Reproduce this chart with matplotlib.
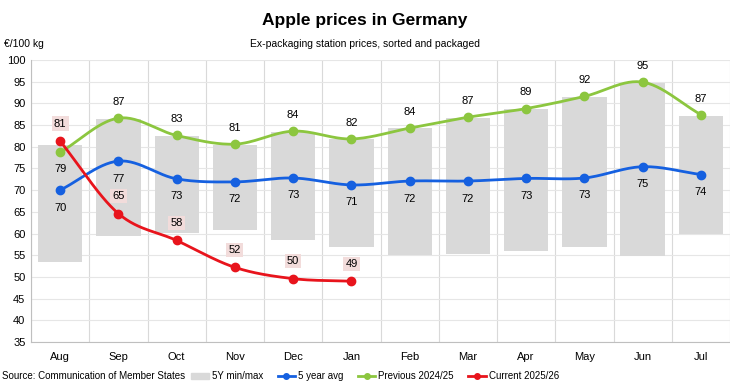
import numpy as np
import matplotlib.pyplot as plt
from matplotlib.lines import Line2D
from matplotlib.patches import Patch

plt.rcParams['font.family'] = ['Liberation Sans', 'DejaVu Sans']

months = ['Aug', 'Sep', 'Oct', 'Nov', 'Dec', 'Jan', 'Feb', 'Mar', 'Apr', 'May', 'Jun', 'Jul']
min5y = [53.4, 59.5, 60.1, 60.7, 58.5, 57.0, 55.1, 55.3, 56.0, 56.8, 54.9, 59.8]
max5y = [80.3, 86.5, 82.4, 80.3, 83.4, 81.8, 84.3, 86.7, 88.7, 91.5, 94.8, 87.2]
avg5y = [70.0, 76.7, 72.6, 71.9, 72.8, 71.2, 72.1, 72.1, 72.7, 72.8, 75.4, 73.6]
prev = [78.7, 86.6, 82.6, 80.6, 83.6, 81.8, 84.3, 86.8, 88.8, 91.6, 94.9, 87.4]
curr = [81.3, 64.6, 58.4, 52.2, 49.6, 49.0]

GREY = '#d9d9d9'
BLUE = '#1560e0'
GREEN = '#8cc63f'
RED = '#e8141c'


def smooth(x, y, n=30):
    # catmull-rom, like excel's smoothed line
    x = np.asarray(x, float)
    y = np.asarray(y, float)
    px = np.concatenate([[2 * x[0] - x[1]], x, [2 * x[-1] - x[-2]]])
    py = np.concatenate([[2 * y[0] - y[1]], y, [2 * y[-1] - y[-2]]])
    xs, ys = [], []
    t = np.linspace(0, 1, n)
    for i in range(1, len(px) - 2):
        for p, out in ((px, xs), (py, ys)):
            p0, p1, p2, p3 = p[i - 1], p[i], p[i + 1], p[i + 2]
            out.extend(0.5 * (2 * p1 + (-p0 + p2) * t + (2 * p0 - 5 * p1 + 4 * p2 - p3) * t ** 2
                              + (-p0 + 3 * p1 - 3 * p2 + p3) * t ** 3))
    return xs, ys


fig = plt.figure(figsize=(7.3, 3.85), dpi=100)
ax = fig.add_axes([0.0425, 0.1117, 0.9575, 0.7325])

x = np.arange(len(months))
ax.bar(x, np.array(max5y) - np.array(min5y), bottom=min5y, width=0.76, color=GREY, zorder=2)

for vals, col in ((avg5y, BLUE), (prev, GREEN), (curr, RED)):
    xx = x[:len(vals)]
    sx, sy = smooth(xx, vals)
    ax.plot(sx, sy, color=col, lw=2, zorder=3)
    ax.plot(xx, vals, 'o', color=col, ms=6, zorder=4)

for i, v in enumerate(avg5y):
    ax.annotate(f'{v:.0f}', (i, v), xytext=(0, -9), textcoords='offset points',
                ha='center', va='top', fontsize=8)
for i, v in enumerate(prev):
    if i == 0:
        ax.annotate(f'{v:.0f}', (i, v), xytext=(0, -8), textcoords='offset points',
                    ha='center', va='top', fontsize=8)
    else:
        ax.annotate(f'{v:.0f}', (i, v), xytext=(0, 8), textcoords='offset points',
                    ha='center', va='bottom', fontsize=8)
for i, v in enumerate(curr):
    ax.annotate(f'{v:.0f}', (i, v), xytext=(0, 9), textcoords='offset points',
                ha='center', va='bottom', fontsize=8,
                bbox=dict(boxstyle='square,pad=0.2', fc='#f2dcdb', ec='none'))

ax.set_xlim(-0.5, 11.5)
ax.set_ylim(35, 100)
ax.set_yticks(np.arange(35, 101, 5))
ax.set_xticks(x)
ax.set_xticklabels(months)
ax.set_xticks(np.arange(-0.5, 12, 1), minor=True)
ax.grid(True, which='minor', axis='x', color='#d9d9d9', lw=0.8, zorder=0)
ax.grid(True, which='major', axis='y', color='#e6e6e6', lw=0.8, zorder=0)
ax.tick_params(axis='both', which='both', length=0, labelsize=8)
ax.tick_params(axis='x', pad=7)
ax.tick_params(axis='y', pad=4)
for s in ('top', 'right'):
    ax.spines[s].set_visible(False)
ax.spines['left'].set_color('#bfbfbf')
ax.spines['bottom'].set_color('#bfbfbf')

fig.text(0.5, 0.948, 'Apple prices in Germany', ha='center', va='center', fontsize=12.5, fontweight='bold')
fig.text(0.5, 0.885, 'Ex-packaging station prices, sorted and packaged', ha='center', va='center', fontsize=7.5)
fig.text(0.005, 0.885, '€/100 kg', ha='left', va='center', fontsize=7.5)
fig.text(0.003, 0.023, 'Source: Communication of Member States', ha='left', va='center', fontsize=7)

handles = [Patch(color=GREY),
           Line2D([], [], color=BLUE, lw=2, marker='o', ms=4),
           Line2D([], [], color=GREEN, lw=2, marker='o', ms=4),
           Line2D([], [], color=RED, lw=2, marker='o', ms=4)]
labels = ['5Y min/max', '5 year avg', 'Previous 2024/25', 'Current 2025/26']
fig.legend(handles, labels, loc='center left', bbox_to_anchor=(0.25, 0.023), ncol=4,
           frameon=False, fontsize=7, handlelength=1.8, handletextpad=0.3, columnspacing=1.5,
           handleheight=0.6)

fig.savefig('out.png', dpi=100)
